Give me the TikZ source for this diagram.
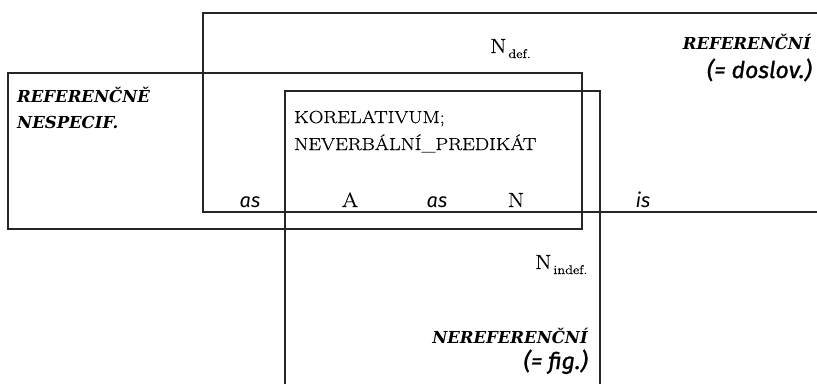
\documentclass[tikz,border=0pt]{standalone}
\usepackage{fontspec}
\newfontfamily\labelfont{DejaVu Serif}
\newfontfamily\glossfont{Fira Sans}
\newfontfamily\glossheavy{Fira Sans}[FakeBold=1.2]
\newfontfamily\wideserif{Latin Modern Roman}[FakeStretch=1.15,FakeBold=0.5]
\newfontfamily\capsserif{Latin Modern Roman}[FakeStretch=1.16,FakeBold=0.5]
\begin{document}
\begin{tikzpicture}[x=1pt,y=-1pt,
  frame/.style={draw=black!85,line width=1.1pt},
  caplabel/.style={inner sep=0pt,font=\labelfont\bfseries\itshape\fontsize{16.5}{18}\selectfont},
  glosslabel/.style={inner sep=0pt,font=\glossheavy\itshape\fontsize{23}{25}\selectfont},
  gloss/.style={inner sep=0pt,anchor=base,font=\glossfont\itshape\fontsize{20}{22}\selectfont},
  word/.style={inner sep=0pt,anchor=base,font=\wideserif\fontsize{20.5}{22}\selectfont},
  capsline/.style={inner sep=0pt,anchor=base west,font=\capsserif\fontsize{17.5}{20}\selectfont},
  sub/.style={inner sep=0pt,anchor=base west,font=\wideserif\fontsize{12.5}{14}\selectfont}]
\useasboundingbox (0,0) rectangle (817,384);
\fill[white] (0,0) rectangle (817,384);

% referential field: open to the right
\draw[frame] (817,13) -- (203,13) -- (203,212) -- (817,212);
% referentially unspecified field
\draw[frame] (8,73) rectangle (582,229);
% non-referential field: open at the bottom
\draw[frame] (285,384) -- (285,91) -- (600,91) -- (600,384);

% field labels
\node[caplabel,anchor=base east] (ref) at (811,49) {REFERENČNÍ};
\node[glosslabel,anchor=base east] (refgloss) at (812,78) {(= doslov.)};
\node[caplabel,anchor=base west] (unspec1) at (17,102) {REFERENČNĚ};
\node[caplabel,anchor=base west] (unspec2) at (17,128) {NESPECIF.};
\node[caplabel,anchor=base east] (nonref) at (588,343) {NEREFERENČNÍ};
\node[glosslabel,anchor=base east] (nonrefgloss) at (588,369) {(= fig.)};

% nominal markers
\node[word,anchor=base west] (ndef) at (490,53) {N};
\node[sub] (ndefsub) at (ndef.base east) [yshift=-5pt,xshift=1.5pt] {def.};
\node[word,anchor=base west] (nindef) at (535,269) {N};
\node[sub] (nindefsub) at (nindef.base east) [yshift=-5pt,xshift=1.5pt] {indef.};

% correlative block
\node[capsline] (korel) at (294,123) {KORELATIVUM;};
\node[capsline] (neverb) at (294,150) {NEVERBÁLNÍ\_PREDIKÁT};

% construction row
\node[gloss] (as1) at (250,207) {as};
\node[word] (a) at (350,207) {A};
\node[gloss] (as2) at (437,207) {as};
\node[word] (n) at (516,207) {N};
\node[gloss] (is) at (643,207) {is};
\end{tikzpicture}
\end{document}
